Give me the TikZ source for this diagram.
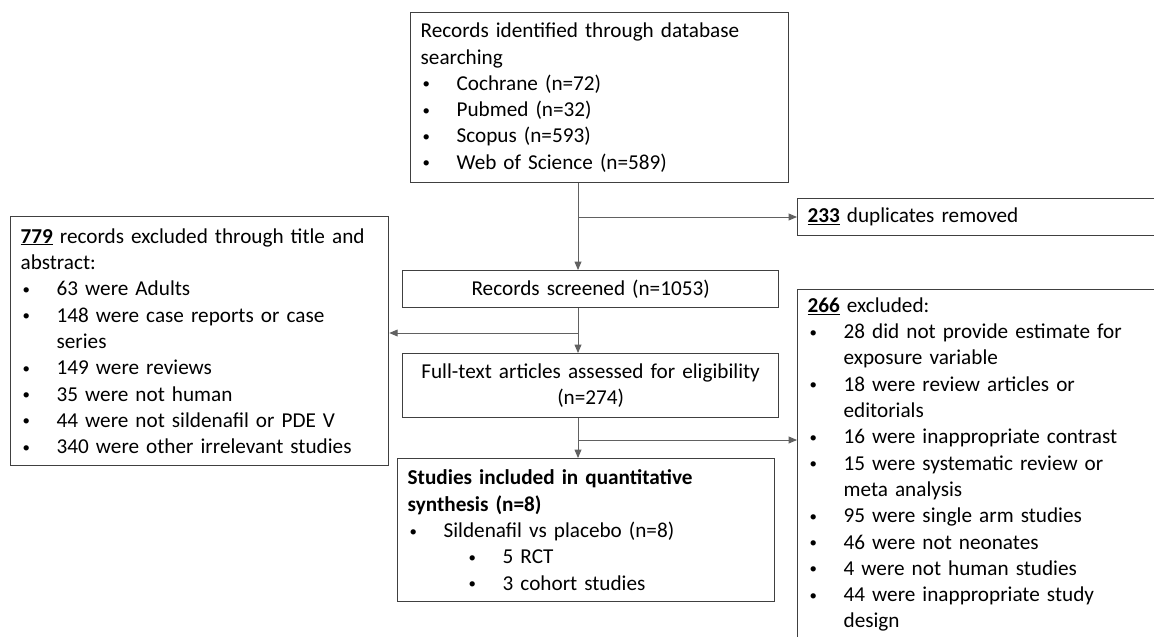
\documentclass[tikz,border=0pt]{standalone}
\usepackage{fontspec}
\usepackage{graphicx}
\setmainfont{Carlito}
\usetikzlibrary{arrows}
\definecolor{boxgray}{rgb}{0.25,0.25,0.25}
\definecolor{linegray}{rgb}{0.38,0.38,0.38}
\newcommand{\bul}{\hspace*{2pt}\makebox[34pt][l]{\raisebox{1.5pt}{\scalebox{0.7}{\textbullet}}}}
\newcommand{\cont}{\hspace*{36pt}}
\newcommand{\num}[1]{\underline{\textbf{#1}}}

\begin{document}
\begin{tikzpicture}[line cap=butt,line join=miter,>=triangle 45,x=1pt,y=-1pt,
  box/.style={draw=boxgray,line width=1.3pt,anchor=north west,inner xsep=10pt,inner ysep=4pt,
    font=\fontsize{21.2}{26.3}\selectfont},
  flow/.style={draw=linegray,line width=0.9pt}]
\useasboundingbox (0,0) rectangle (1154,637);
\clip (0,0) rectangle (1154,637);
% boxes
\node[box,text width=358pt,minimum height=170pt,align=left] (ident) at (410,12)
  {Records identified through database\\searching\\
   \bul Cochrane (n=72)\\\bul Pubmed (n=32)\\\bul Scopus (n=593)\\\bul Web of Science (n=589)};
\node[box,text width=383pt,minimum height=37pt,align=left] (dupl) at (797,198)
  {\num{233} duplicates removed};
\node[box,text width=358pt,minimum height=249pt,align=left] (titleex) at (10,216)
  {\num{779} records excluded through title and\\abstract:\\
   \bul 63 were Adults\\\bul 148 were case reports or case\\\cont series\\
   \bul 149 were reviews\\\bul 35 were not human\\\bul 44 were not sildenafil or PDE V\\
   \bul 340 were other irrelevant studies};
\node[box,text width=356pt,minimum height=37pt,align=center] (screen) at (402,270)
  {Records screened (n=1053)};
\node[box,text width=356pt,minimum height=64pt,align=center] (fulltext) at (402,353)
  {Full-text articles assessed for eligibility\\(n=274)};
\node[box,text width=357pt,minimum height=143pt,align=left] (incl) at (397,458)
  {\textbf{Studies included in quantitative}\\\textbf{synthesis (n=8)}\\
   \bul Sildenafil vs placebo (n=8)\\
   \hspace*{59pt}\bul 5 RCT\\\hspace*{59pt}\bul 3 cohort studies};
\node[box,text width=383pt,inner ysep=8pt,align=left] (fullex) at (797,289)
  {\num{266} excluded:\\
   \bul 28 did not provide estimate for\\\cont exposure variable\\
   \bul 18 were review articles or\\\cont editorials\\
   \bul 16 were inappropriate contrast\\
   \bul 15 were systematic review or\\\cont meta analysis\\
   \bul 95 were single arm studies\\\bul 46 were not neonates\\
   \bul 4 were not human studies\\\bul 44 were inappropriate study\\\cont design\\[20pt]};
% main spine
\coordinate (spine) at (578,0);
\coordinate (br1) at (578,217);
\coordinate (br2) at (578,333);
\coordinate (br3) at (578,440);
\draw[flow,->] (ident.south -| spine) -- (screen.north -| spine);
\draw[flow,->] (br1) -- (dupl.west |- br1);
\draw[flow,->] (screen.south -| spine) -- (fulltext.north -| spine);
\draw[flow,->] (br2) -- (titleex.east |- br2);
\draw[flow,->] (fulltext.south -| spine) -- (incl.north -| spine);
\draw[flow,->] (br3) -- (fullex.west |- br3);
\end{tikzpicture}
\end{document}
